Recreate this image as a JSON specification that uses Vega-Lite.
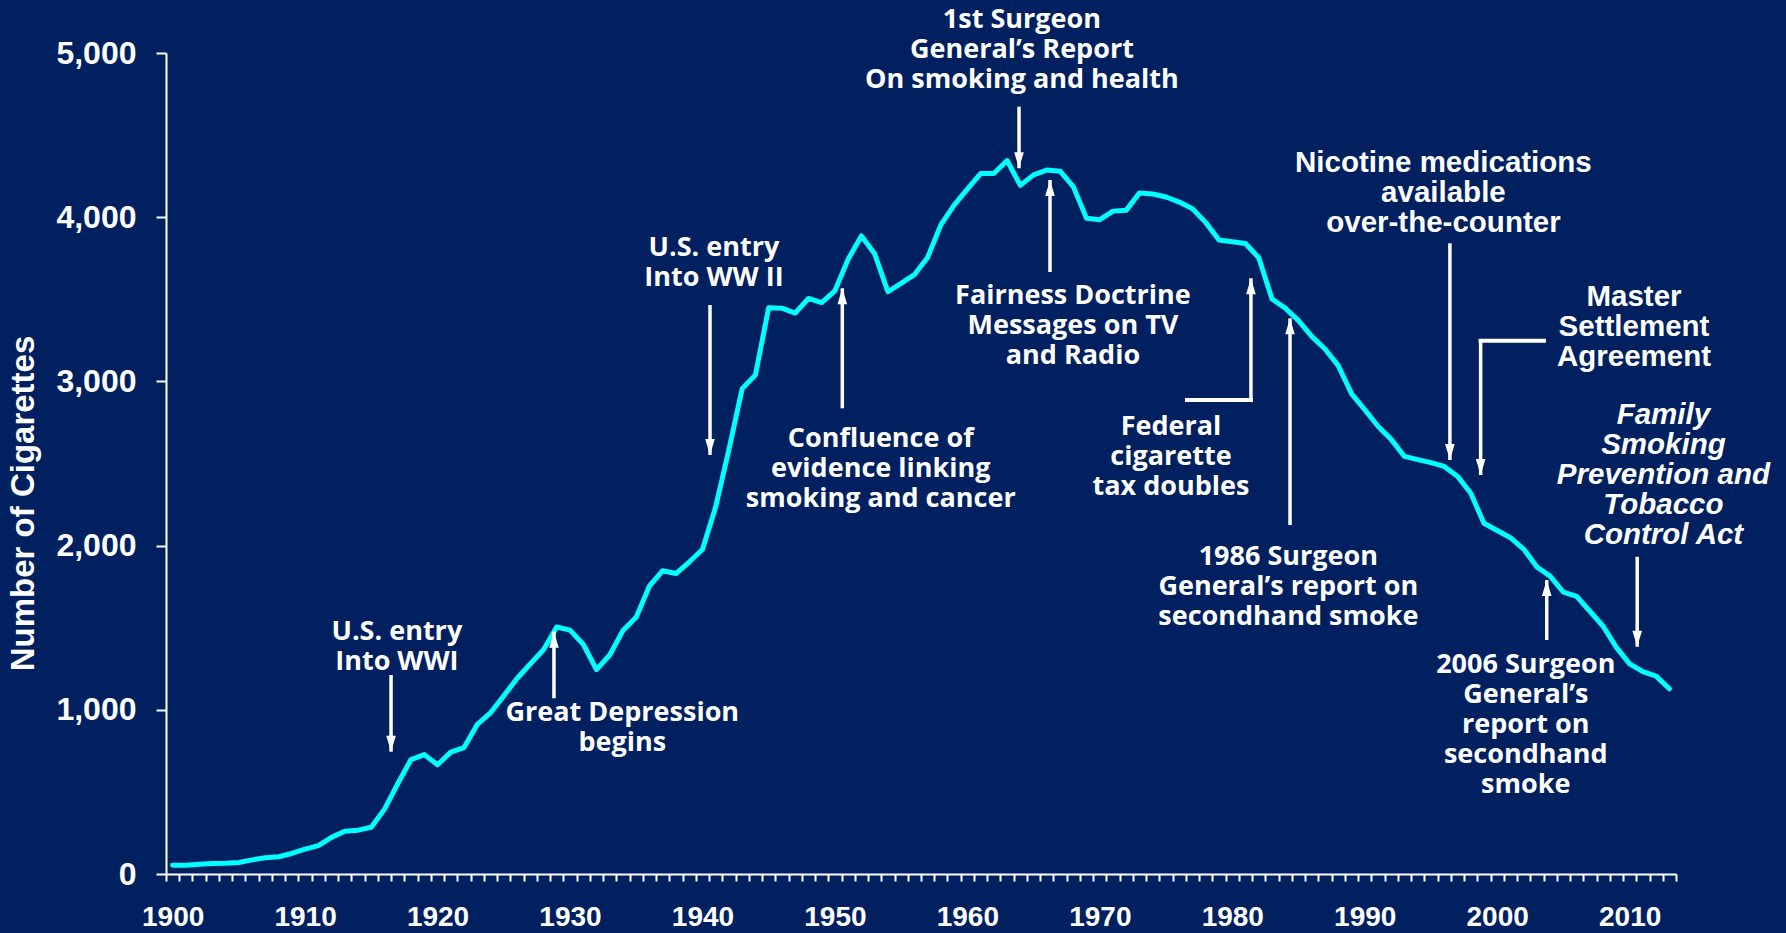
{
  "$schema": "https://vega.github.io/schema/vega-lite/v6.json",
  "width": 1510,
  "height": 821,
  "autosize": {"type": "none"},
  "padding": {"left": 166, "top": 53, "right": 110, "bottom": 59},
  "background": "#002060",
  "config": {"view": {"stroke": null}, "font": "Liberation Sans"},
  "resolve": {"axis": {"x": "independent"}},
  "datasets": {
    "consumption": [
      {"year": 1900, "value": 54}, {"year": 1901, "value": 53}, {"year": 1902, "value": 60}, {"year": 1903, "value": 64},
      {"year": 1904, "value": 66}, {"year": 1905, "value": 70}, {"year": 1906, "value": 86}, {"year": 1907, "value": 99},
      {"year": 1908, "value": 105}, {"year": 1909, "value": 125}, {"year": 1910, "value": 151}, {"year": 1911, "value": 173},
      {"year": 1912, "value": 223}, {"year": 1913, "value": 260}, {"year": 1914, "value": 267}, {"year": 1915, "value": 285},
      {"year": 1916, "value": 395}, {"year": 1917, "value": 551}, {"year": 1918, "value": 697}, {"year": 1919, "value": 727},
      {"year": 1920, "value": 665}, {"year": 1921, "value": 742}, {"year": 1922, "value": 770}, {"year": 1923, "value": 911},
      {"year": 1924, "value": 982}, {"year": 1925, "value": 1085}, {"year": 1926, "value": 1191}, {"year": 1927, "value": 1279},
      {"year": 1928, "value": 1366}, {"year": 1929, "value": 1504}, {"year": 1930, "value": 1485}, {"year": 1931, "value": 1399},
      {"year": 1932, "value": 1245}, {"year": 1933, "value": 1334}, {"year": 1934, "value": 1483}, {"year": 1935, "value": 1564},
      {"year": 1936, "value": 1754}, {"year": 1937, "value": 1847}, {"year": 1938, "value": 1830}, {"year": 1939, "value": 1900},
      {"year": 1940, "value": 1976}, {"year": 1941, "value": 2236}, {"year": 1942, "value": 2585}, {"year": 1943, "value": 2956},
      {"year": 1944, "value": 3039}, {"year": 1945, "value": 3449}, {"year": 1946, "value": 3446}, {"year": 1947, "value": 3416},
      {"year": 1948, "value": 3505}, {"year": 1949, "value": 3480}, {"year": 1950, "value": 3552}, {"year": 1951, "value": 3744},
      {"year": 1952, "value": 3886}, {"year": 1953, "value": 3778}, {"year": 1954, "value": 3546}, {"year": 1955, "value": 3597},
      {"year": 1956, "value": 3650}, {"year": 1957, "value": 3755}, {"year": 1958, "value": 3953}, {"year": 1959, "value": 4073},
      {"year": 1960, "value": 4171}, {"year": 1961, "value": 4266}, {"year": 1962, "value": 4266}, {"year": 1963, "value": 4345},
      {"year": 1964, "value": 4194}, {"year": 1965, "value": 4258}, {"year": 1966, "value": 4287}, {"year": 1967, "value": 4280},
      {"year": 1968, "value": 4186}, {"year": 1969, "value": 3993}, {"year": 1970, "value": 3985}, {"year": 1971, "value": 4037},
      {"year": 1972, "value": 4043}, {"year": 1973, "value": 4148}, {"year": 1974, "value": 4141}, {"year": 1975, "value": 4123},
      {"year": 1976, "value": 4092}, {"year": 1977, "value": 4051}, {"year": 1978, "value": 3967}, {"year": 1979, "value": 3861},
      {"year": 1980, "value": 3851}, {"year": 1981, "value": 3840}, {"year": 1982, "value": 3753}, {"year": 1983, "value": 3502},
      {"year": 1984, "value": 3446}, {"year": 1985, "value": 3370}, {"year": 1986, "value": 3274}, {"year": 1987, "value": 3197},
      {"year": 1988, "value": 3096}, {"year": 1989, "value": 2926}, {"year": 1990, "value": 2828}, {"year": 1991, "value": 2727},
      {"year": 1992, "value": 2647}, {"year": 1993, "value": 2543}, {"year": 1994, "value": 2524}, {"year": 1995, "value": 2505},
      {"year": 1996, "value": 2482}, {"year": 1997, "value": 2423}, {"year": 1998, "value": 2320}, {"year": 1999, "value": 2136},
      {"year": 2000, "value": 2092}, {"year": 2001, "value": 2048}, {"year": 2002, "value": 1979}, {"year": 2003, "value": 1870},
      {"year": 2004, "value": 1814}, {"year": 2005, "value": 1716}, {"year": 2006, "value": 1691}, {"year": 2007, "value": 1600},
      {"year": 2008, "value": 1509}, {"year": 2009, "value": 1380}, {"year": 2010, "value": 1280}, {"year": 2011, "value": 1232},
      {"year": 2012, "value": 1205}, {"year": 2013, "value": 1128}
    ],
    "notesHumanist": [
      {"year": 1964.12, "value": 5201, "label": "1st Surgeon\nGeneral’s Report\nOn smoking and health"},
      {"year": 1967.97, "value": 3520, "label": "Fairness Doctrine\nMessages on TV\nand Radio"},
      {"year": 1940.87, "value": 3810, "label": "U.S. entry\nInto WW II"},
      {"year": 1953.46, "value": 2647, "label": "Confluence of\nevidence linking\nsmoking and cancer"},
      {"year": 1916.93, "value": 1476, "label": "U.S. entry\nInto WWI"},
      {"year": 1933.95, "value": 979, "label": "Great Depression\nbegins"},
      {"year": 1975.37, "value": 2724, "label": "Federal\ncigarette\ntax doubles"},
      {"year": 1984.23, "value": 1932, "label": "1986 Surgeon\nGeneral’s report on\nsecondhand smoke"},
      {"year": 2002.16, "value": 1273, "label": "2006 Surgeon\nGeneral’s\nreport on\nsecondhand\nsmoke"}
    ],
    "notesArial": [
      {"year": 1995.94, "value": 4328, "label": "Nicotine medications\navailable\nover-the-counter"},
      {"year": 2010.33, "value": 3516, "label": "Master\nSettlement\nAgreement"}
    ],
    "notesItalic": [
      {"year": 2012.55, "value": 2795, "label": "Family\nSmoking\nPrevention and\nTobacco\nControl Act"}
    ],
    "arrows": [
      {"year": 1963.9, "value": 4673, "tip": 4298, "dir": "down"},
      {"year": 1966.24, "value": 3666, "tip": 4227, "dir": "up"},
      {"year": 1981.41, "value": 2887, "tip": 3628, "dir": "up"},
      {"year": 1940.57, "value": 3465, "tip": 2552, "dir": "down"},
      {"year": 1950.56, "value": 2836, "tip": 3567, "dir": "up"},
      {"year": 1916.49, "value": 1212, "tip": 745, "dir": "down"},
      {"year": 1928.79, "value": 1070, "tip": 1476, "dir": "up"},
      {"year": 1984.36, "value": 2125, "tip": 3384, "dir": "up"},
      {"year": 1996.43, "value": 3841, "tip": 2521, "dir": "down"},
      {"year": 1998.75, "value": 3248, "tip": 2430, "dir": "down"},
      {"year": 2010.57, "value": 1932, "tip": 1384, "dir": "down"},
      {"year": 2003.74, "value": 1425, "tip": 1790, "dir": "up"}
    ],
    "elbows": [
      {"year": 1976.58, "year2": 1981.41, "value": 2887},
      {"year": 1998.75, "year2": 2003.53, "value": 3248}
    ]
  },
  "layer": [
    {
      "data": {"name": "consumption"},
      "mark": {"type": "line", "color": "#00FFFF", "strokeWidth": 5, "strokeJoin": "round", "strokeCap": "round"},
      "encoding": {
        "x": {
          "field": "year", "type": "quantitative",
          "scale": {"domain": [1899.5, 2013.5], "nice": false, "zero": false},
          "axis": {
            "orient": "bottom", "title": null, "grid": false,
            "values": [1900, 1910, 1920, 1930, 1940, 1950, 1960, 1970, 1980, 1990, 2000, 2010],
            "format": "d",
            "labelOverlap": false, "labelBound": false, "labelFlush": false,
            "tickSize": 7, "tickOpacity": 0,
            "domainColor": "white", "domainWidth": 2,
            "labelColor": "white", "labelFont": "Liberation Sans", "labelFontWeight": "bold",
            "labelFontSize": 28, "labelPadding": 22
          }
        },
        "y": {
          "field": "value", "type": "quantitative",
          "scale": {"domain": [0, 5000], "nice": false},
          "axis": {
            "values": [0, 1000, 2000, 3000, 4000, 5000], "format": ",.0f", "grid": false,
            "tickSize": 10, "tickWidth": 2, "tickColor": "white",
            "domainColor": "white", "domainWidth": 2,
            "labelColor": "white", "labelFont": "Liberation Sans", "labelFontWeight": "bold",
            "labelFontSize": 32, "labelPadding": 20, "labelFlush": false,
            "title": "Number of Cigarettes", "titleColor": "white", "titleFont": "Liberation Sans",
            "titleFontWeight": "bold", "titleFontSize": 33, "titleAngle": -90,
            "titleX": -143, "titleY": 450, "titleAlign": "center", "titleBaseline": "middle"
          }
        }
      }
    },
    {
      "data": {"name": "arrows"},
      "mark": {"type": "rule", "color": "white", "strokeWidth": 3.5},
      "encoding": {
        "x": {
          "field": "year", "type": "quantitative",
          "axis": {
            "orient": "bottom", "title": null, "grid": false, "labels": false, "domain": false,
            "values": [1899.5,1900.5,1901.5,1902.5,1903.5,1904.5,1905.5,1906.5,1907.5,1908.5,1909.5,1910.5,1911.5,1912.5,1913.5,1914.5,1915.5,1916.5,1917.5,1918.5,1919.5,1920.5,1921.5,1922.5,1923.5,1924.5,1925.5,1926.5,1927.5,1928.5,1929.5,1930.5,1931.5,1932.5,1933.5,1934.5,1935.5,1936.5,1937.5,1938.5,1939.5,1940.5,1941.5,1942.5,1943.5,1944.5,1945.5,1946.5,1947.5,1948.5,1949.5,1950.5,1951.5,1952.5,1953.5,1954.5,1955.5,1956.5,1957.5,1958.5,1959.5,1960.5,1961.5,1962.5,1963.5,1964.5,1965.5,1966.5,1967.5,1968.5,1969.5,1970.5,1971.5,1972.5,1973.5,1974.5,1975.5,1976.5,1977.5,1978.5,1979.5,1980.5,1981.5,1982.5,1983.5,1984.5,1985.5,1986.5,1987.5,1988.5,1989.5,1990.5,1991.5,1992.5,1993.5,1994.5,1995.5,1996.5,1997.5,1998.5,1999.5,2000.5,2001.5,2002.5,2003.5,2004.5,2005.5,2006.5,2007.5,2008.5,2009.5,2010.5,2011.5,2012.5,2013.5],
            "tickSize": 7, "tickWidth": 2, "tickColor": "white"
          }
        },
        "y": {"field": "value", "type": "quantitative"},
        "y2": {"field": "tip"}
      }
    },
    {
      "data": {"name": "arrows"},
      "mark": {"type": "point", "filled": true, "color": "white", "opacity": 1, "size": 256},
      "encoding": {
        "x": {"field": "year", "type": "quantitative", "axis": null},
        "y": {"field": "tip", "type": "quantitative"},
        "shape": {
          "field": "dir", "type": "nominal", "legend": null,
          "scale": {"domain": ["down", "up"], "range": ["M-0.6,-2L0.6,-2L0,0Z", "M-0.6,2L0.6,2L0,0Z"]}
        }
      }
    },
    {
      "data": {"name": "elbows"},
      "mark": {"type": "rule", "color": "white", "strokeWidth": 4, "strokeCap": "square"},
      "encoding": {
        "x": {"field": "year", "type": "quantitative", "axis": null},
        "x2": {"field": "year2"},
        "y": {"field": "value", "type": "quantitative"}
      }
    },
    {
      "data": {"name": "notesHumanist"},
      "mark": {"type": "text", "font": "Open Sans", "fontWeight": "bold", "fontSize": 27, "color": "white", "align": "center", "baseline": "middle", "lineBreak": "\n", "lineHeight": 30},
      "encoding": {
        "x": {"field": "year", "type": "quantitative", "axis": null},
        "y": {"field": "value", "type": "quantitative"},
        "text": {"field": "label"}
      }
    },
    {
      "data": {"name": "notesArial"},
      "mark": {"type": "text", "font": "Liberation Sans", "fontWeight": "bold", "fontSize": 29.5, "color": "white", "align": "center", "baseline": "middle", "lineBreak": "\n", "lineHeight": 30},
      "encoding": {
        "x": {"field": "year", "type": "quantitative", "axis": null},
        "y": {"field": "value", "type": "quantitative"},
        "text": {"field": "label"}
      }
    },
    {
      "data": {"name": "notesItalic"},
      "mark": {"type": "text", "font": "Liberation Sans", "fontWeight": "bold", "fontStyle": "italic", "fontSize": 29.5, "color": "white", "align": "center", "baseline": "middle", "lineBreak": "\n", "lineHeight": 30},
      "encoding": {
        "x": {"field": "year", "type": "quantitative", "axis": null},
        "y": {"field": "value", "type": "quantitative"},
        "text": {"field": "label"}
      }
    }
  ]
}
